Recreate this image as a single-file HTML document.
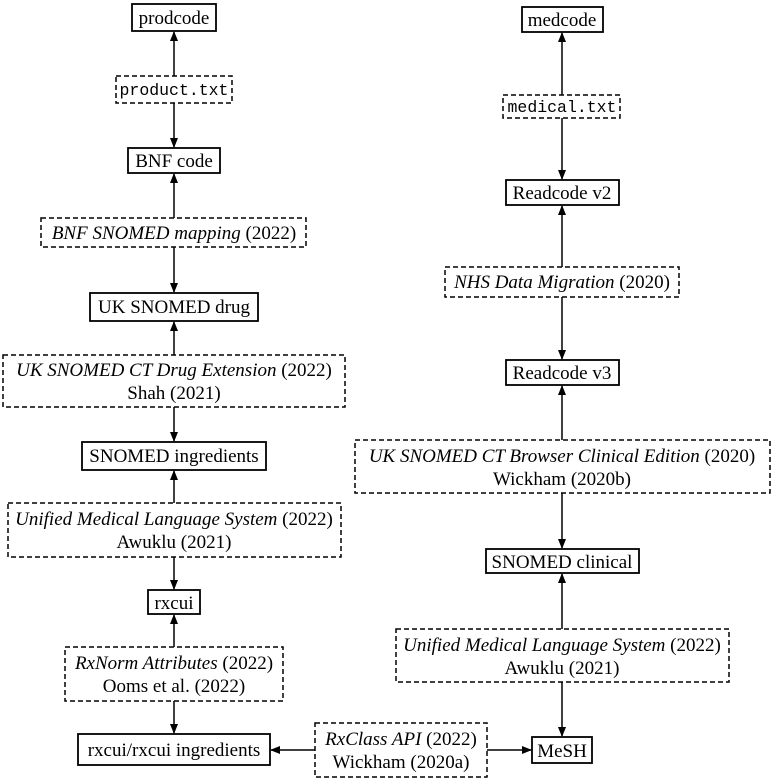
<!DOCTYPE html>
<html><head><meta charset="utf-8"><style>
html,body{margin:0;padding:0;background:#fff;}
svg{display:block;}
text{font-family:"Liberation Serif",serif;font-size:19px;fill:#000;}
.m{font-family:"Liberation Mono",monospace;font-size:16.5px;}
.i{font-style:italic;}
.s{fill:none;stroke:#000;stroke-width:1.8;}
.d{fill:none;stroke:#000;stroke-width:1.5;stroke-dasharray:5,3;}
.a{stroke:#000;stroke-width:1.5;marker-end:url(#ar);}
</style></head><body>
<svg width="772" height="779" viewBox="0 0 772 779">
<defs><marker id="ar" markerWidth="10" markerHeight="8" refX="9" refY="4" orient="auto" markerUnits="userSpaceOnUse"><path d="M0,0 L10,4 L0,8 Z" fill="#000"/></marker></defs>

<!-- left column -->
<rect class="s" x="132" y="4" width="84" height="27"/><text x="174" y="24" text-anchor="middle">prodcode</text>
<rect class="d" x="116" y="76" width="116" height="27"/><text class="m" x="174" y="95" text-anchor="middle">product.txt</text>
<rect class="s" x="128" y="148" width="92" height="25"/><text x="174" y="167" text-anchor="middle">BNF code</text>
<rect class="d" x="41" y="218" width="265" height="29"/><text x="174" y="239" text-anchor="middle"><tspan class="i">BNF SNOMED mapping</tspan> (2022)</text>
<rect class="s" x="90" y="293" width="168" height="28"/><text x="174" y="313" text-anchor="middle">UK SNOMED drug</text>
<rect class="d" x="3" y="355" width="342" height="52"/><text x="174" y="376" text-anchor="middle"><tspan class="i">UK SNOMED CT Drug Extension</tspan> (2022)</text><text x="174" y="399" text-anchor="middle">Shah (2021)</text>
<rect class="s" x="82" y="442" width="184" height="28"/><text x="174" y="462" text-anchor="middle">SNOMED ingredients</text>
<rect class="d" x="8" y="503" width="333" height="54"/><text x="174" y="525" text-anchor="middle"><tspan class="i">Unified Medical Language System</tspan> (2022)</text><text x="174" y="548" text-anchor="middle">Awuklu (2021)</text>
<rect class="s" x="148" y="590" width="52" height="24"/><text x="174" y="609" text-anchor="middle">rxcui</text>
<rect class="d" x="65" y="647" width="218" height="54"/><text x="174" y="669" text-anchor="middle"><tspan class="i">RxNorm Attributes</tspan> (2022)</text><text x="174" y="692" text-anchor="middle">Ooms et al. (2022)</text>
<rect class="s" x="78" y="734" width="192" height="31"/><text x="174" y="756" text-anchor="middle">rxcui/rxcui ingredients</text>

<line class="a" x1="174" y1="76" x2="174" y2="32"/>
<line class="a" x1="174" y1="103" x2="174" y2="147"/>
<line class="a" x1="174" y1="218" x2="174" y2="174"/>
<line class="a" x1="174" y1="247" x2="174" y2="292"/>
<line class="a" x1="174" y1="355" x2="174" y2="322"/>
<line class="a" x1="174" y1="407" x2="174" y2="441"/>
<line class="a" x1="174" y1="503" x2="174" y2="471"/>
<line class="a" x1="174" y1="557" x2="174" y2="589"/>
<line class="a" x1="174" y1="647" x2="174" y2="615"/>
<line class="a" x1="174" y1="701" x2="174" y2="733"/>

<!-- right column -->
<rect class="s" x="522" y="7" width="81" height="25"/><text x="562" y="26" text-anchor="middle">medcode</text>
<rect class="d" x="503" y="95" width="117" height="23"/><text class="m" x="562" y="112" text-anchor="middle">medical.txt</text>
<rect class="s" x="506" y="180" width="113" height="25"/><text x="562" y="199" text-anchor="middle">Readcode v2</text>
<rect class="d" x="445" y="267" width="234" height="30"/><text x="562" y="288" text-anchor="middle"><tspan class="i">NHS Data Migration</tspan> (2020)</text>
<rect class="s" x="506" y="360" width="113" height="25"/><text x="562" y="379" text-anchor="middle">Readcode v3</text>
<rect class="d" x="355" y="440" width="415" height="53"/><text x="562" y="462" text-anchor="middle"><tspan class="i">UK SNOMED CT Browser Clinical Edition</tspan> (2020)</text><text x="562" y="485" text-anchor="middle">Wickham (2020b)</text>
<rect class="s" x="486" y="549" width="153" height="24"/><text x="562" y="568" text-anchor="middle">SNOMED clinical</text>
<rect class="d" x="396" y="629" width="333" height="53"/><text x="562" y="651" text-anchor="middle"><tspan class="i">Unified Medical Language System</tspan> (2022)</text><text x="562" y="674" text-anchor="middle">Awuklu (2021)</text>
<rect class="s" x="532" y="737" width="60" height="26"/><text x="562" y="757" text-anchor="middle">MeSH</text>
<rect class="d" x="315" y="723" width="172" height="54"/><text x="401" y="745" text-anchor="middle"><tspan class="i">RxClass API</tspan> (2022)</text><text x="401" y="768" text-anchor="middle">Wickham (2020a)</text>

<line class="a" x1="562" y1="95" x2="562" y2="33"/>
<line class="a" x1="562" y1="118" x2="562" y2="179"/>
<line class="a" x1="562" y1="267" x2="562" y2="206"/>
<line class="a" x1="562" y1="297" x2="562" y2="359"/>
<line class="a" x1="562" y1="440" x2="562" y2="386"/>
<line class="a" x1="562" y1="493" x2="562" y2="548"/>
<line class="a" x1="562" y1="629" x2="562" y2="574"/>
<line class="a" x1="562" y1="682" x2="562" y2="736"/>
<line class="a" x1="315" y1="750" x2="271" y2="750"/>
<line class="a" x1="487" y1="750" x2="531" y2="750"/>
</svg>
</body></html>
